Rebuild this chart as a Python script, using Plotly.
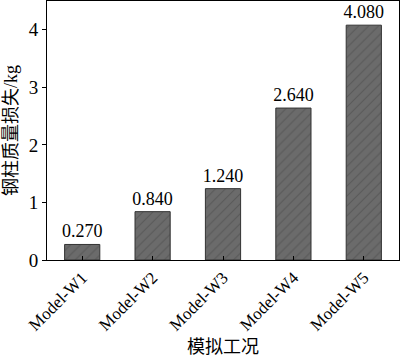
import plotly.graph_objects as go

categories = ["Model-W1", "Model-W2", "Model-W3", "Model-W4", "Model-W5"]
mass_loss = [0.270, 0.840, 1.240, 2.640, 4.080]
y_ticks = [0, 1, 2, 3, 4]

serif = "Liberation Serif, Times New Roman, serif"
cjk = "Liberation Serif, Noto Sans CJK SC, serif"

fig = go.Figure(go.Bar(
    x=categories, y=mass_loss, width=0.5,
    marker=dict(color="#6b6b6b", line=dict(color="#333333", width=1),
                pattern=dict(shape="/", fgcolor="#454545", bgcolor="#6b6b6b",
                             size=7, solidity=0.15)),
    text=[f"{v:.3f}" for v in mass_loss], textposition="outside",
    textfont=dict(family=serif, size=18, color="black"),
    constraintext="none",
    cliponaxis=False,
))

fig.update_layout(
    width=400, height=357,
    margin=dict(l=47, r=1, t=1, b=97),
    plot_bgcolor="white", paper_bgcolor="white",
    showlegend=False,
    font=dict(family=serif, size=17, color="black"),
    xaxis=dict(
        type="category", range=[-0.5, 4.5], automargin=False,
        showline=True, linecolor="black", linewidth=1, mirror=True,
        ticks="inside", ticklen=4, tickcolor="black",
        tickangle=-45, tickfont=dict(family=serif, size=17),
        title=dict(text="模拟工况", font=dict(family=cjk, size=18), standoff=10),
    ),
    yaxis=dict(
        range=[0, 4.5], tickvals=y_ticks, ticktext=[str(t) for t in y_ticks],
        automargin=False,
        showline=True, linecolor="black", linewidth=1, mirror=True,
        ticks="outside", ticklen=4, tickcolor="black",
        showgrid=False, zeroline=False,
        tickfont=dict(family=serif, size=19),
        title=dict(text="钢柱质量损失/kg", font=dict(family=cjk, size=18), standoff=6),
    ),
)

fig.write_html("out.html", config={"displayModeBar": False},
               post_script="document.body.style.margin='0';")
